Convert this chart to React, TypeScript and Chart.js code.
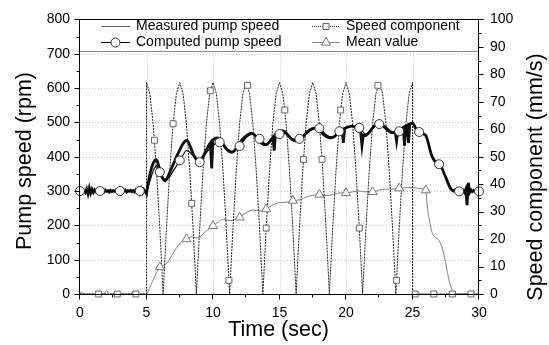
import React, { useEffect, useRef } from "react";
import { Chart, registerables } from "chart.js";

Chart.register(...registerables);

const FONT = '"Liberation Sans", Arial, sans-serif';

// Measured pump speed (rpm), sampled every 0.1 s from 0 to 30 s
const MEAS_DT = 0.1;
const measuredRpm = [
  300, 303, 298, 301, 296, 306, 292, 309, 294, 305,
  296, 303, 298, 301, 299, 302, 298, 301, 297, 303,
  299, 301, 297, 302, 298, 301, 299, 302, 297, 301,
  299, 302, 298, 300, 303, 297, 301, 299, 302, 298,
  301, 297, 303, 296, 305, 294, 306, 295, 304, 298,
  292, 318, 338, 356, 370, 381, 388, 392, 388, 376,
  361, 348, 338, 332, 330, 334, 341, 350, 359, 368,
  377, 386, 395, 404, 412, 420, 428, 435, 441, 445,
  447, 445, 438, 429, 419, 409, 401, 395, 390, 388,
  387, 391, 397, 404, 412, 420, 427, 434, 440, 366,
  449, 452, 454, 455, 454, 452, 447, 441, 434, 428,
  423, 419, 416, 414, 413, 414, 417, 422, 428, 434,
  440, 445, 450, 454, 458, 461, 464, 466, 468, 468,
  467, 464, 459, 454, 449, 445, 441, 438, 436, 435,
  435, 437, 441, 446, 451, 456, 418, 465, 469, 472,
  474, 475, 476, 475, 473, 469, 464, 459, 455, 451,
  449, 447, 446, 446, 447, 448, 451, 455, 460, 465,
  469, 473, 476, 479, 481, 482, 483, 483, 482, 480,
  477, 473, 469, 465, 462, 459, 457, 456, 455, 455,
  456, 458, 461, 465, 469, 473, 476, 479, 440, 482,
  484, 486, 487, 488, 489, 489, 488, 486, 483, 480,
  476, 471, 432, 463, 461, 462, 465, 469, 474, 479,
  484, 488, 492, 495, 496, 497, 496, 494, 490, 486,
  482, 478, 475, 473, 471, 470, 470, 471, 445, 474,
  476, 479, 482, 485, 432, 490, 492, 440, 496, 497,
  498, 494, 485, 478, 475, 473, 471, 469, 467, 465,
  462, 452, 438, 422, 408, 398, 391, 386, 383, 381,
  379, 375, 368, 359, 349, 340, 330, 320, 311, 305,
  302, 300, 303, 298, 301, 297, 303, 299, 302, 296,
  305, 259, 324, 296, 303, 298, 302, 299, 301, 298,
  300,
];

// Computed pump speed (rpm)
const compTime = [0, 5, 5.25, 5.5, 5.75, 6, 6.25, 6.5, 6.75, 7, 7.25, 7.5, 7.75, 8, 8.25, 8.5, 8.75, 9, 9.5, 10, 10.5, 11, 11.5, 12, 12.5, 13, 13.5, 14, 14.5, 15, 15.5, 16, 16.5, 17, 17.5, 18, 18.5, 19, 19.5, 20, 20.5, 21, 21.5, 22, 22.5, 23, 23.5, 24, 24.5, 25, 25.5, 26, 26.5, 27, 27.5, 28, 28.5, 30];
const compRpm = [300, 300, 328, 358, 374, 355, 338, 333, 342, 358, 373, 390, 405, 418, 413, 402, 391, 384, 412, 433, 442, 424, 414, 431, 456, 466, 452, 437, 455, 466, 467, 452, 450, 466, 480, 483, 464, 457, 474, 484, 488, 484, 466, 483, 495, 487, 472, 474, 488, 495, 472, 462, 400, 378, 341, 304, 299, 299];
const compMarkTime = [0, 1.5, 3, 4.5, 6, 7.5, 9, 10.5, 12, 13.5, 15, 16.5, 18, 19.5, 21, 22.5, 24, 25.5, 27, 28.5, 30];
const compMarkRpm = [300, 300, 300, 300, 355, 389, 384, 442, 431, 452, 466, 452, 483, 474, 484, 495, 474, 472, 378, 299, 299];

// Speed component (mm/s): 0 before 5 s, sampled every 0.25 s from 5 to 25 s, 0 after
const SPEED_T0 = 5;
const SPEED_DT = 0.25;
const speedVal = [
  77, 73, 62, 45, 24, 0, 24, 45, 62, 73,
  77, 73, 62, 45, 24, 0, 24, 45, 62, 73,
  77, 73, 62, 45, 24, 0, 24, 45, 62, 73,
  77, 73, 62, 45, 24, 0, 24, 45, 62, 73,
  77, 73, 62, 45, 24, 0, 24, 45, 62, 73,
  77, 73, 62, 45, 24, 0, 24, 45, 62, 73,
  77, 73, 62, 45, 24, 0, 24, 45, 62, 73,
  77, 73, 62, 45, 24, 0, 24, 45, 62, 73,
  77,
];
const speedMarkTime = [1.4, 2.8, 4.2, 5.6, 7.0, 8.4, 9.8, 11.2, 12.6, 14.0, 15.4, 16.8, 18.2, 19.6, 21.0, 22.4, 23.8, 25.2, 26.6, 28.0, 29.4];
const speedMarkVal = [0, 0, 0, 56, 62, 33, 74, 5, 76, 24, 67, 49, 49, 67, 24, 76, 5, 0, 0, 0, 0];

// Mean value (mm/s)
const meanTime = [0, 0.1, 0.25, 1.8, 2.0, 2.2, 3.8, 4.0, 4.2, 5.0, 5.25, 5.5, 5.75, 6.0, 6.3, 6.6, 7.0, 7.5, 8.0, 8.4, 8.8, 9.2, 9.6, 10.0, 10.4, 10.8, 11.3, 11.7, 12.0, 12.5, 13.0, 13.5, 14.0, 14.5, 15.0, 15.5, 16.0, 16.5, 17.0, 17.5, 18.0, 18.5, 19.0, 19.5, 20.0, 20.5, 21.0, 21.5, 22.0, 22.5, 23.0, 23.5, 24.0, 24.5, 25.0, 25.5, 26.0, 26.1, 26.3, 26.5, 26.75, 27.0, 27.25, 27.5, 27.75, 28.0, 28.2, 30];
const meanVal = [0, 0.8, 0, 0, 1.2, 0, 0, 1.2, 0, 0, 2.4, 5.2, 7.7, 9.8, 10.4, 11.6, 14.9, 18.3, 20.0, 20.8, 20.4, 21.6, 23.4, 24.8, 26.3, 27.2, 26.7, 27.2, 27.9, 29.6, 30.6, 30.2, 30.9, 32.4, 33.3, 33.4, 34.0, 34.3, 35.3, 36.0, 36.2, 35.8, 36.2, 36.8, 36.8, 37.2, 37.5, 37.2, 37.2, 37.8, 38.2, 38.2, 38.5, 38.7, 38.8, 38.4, 37.8, 32.5, 26.0, 22.0, 20.5, 19.4, 16.5, 11.0, 5.0, 1.2, 0, 0];
const meanMarkTime = [6, 8, 10, 12, 14, 16, 18, 20, 22, 24, 26];
const meanMarkVal = [9.8, 20, 24.8, 27.9, 30.9, 34.0, 36.2, 36.8, 37.2, 38.5, 37.8];

// Axes
const X_MIN = 0, X_MAX = 30, X_MAJOR = 5, X_MINOR = 2.5;
const Y_MIN = 0, Y_MAX = 800, Y_MAJOR = 100, Y_MINOR = 50;
const Y1_MIN = 0, Y1_MAX = 100, Y1_MAJOR = 10, Y1_MINOR = 5;
const LEGEND_LINE_RPM = 709;

const legendItems = ["Measured pump speed", "Speed component", "Computed pump speed", "Mean value"];
const xTitle = "Time (sec)";
const yTitle = "Pump speed (rpm)";
const y1Title = "Speed component (mm/s)";

const pts = (xs: number[], ys: number[]) => xs.map((x, i) => ({ x, y: ys[i] }));

function drawMarker(ctx: CanvasRenderingContext2D, kind: string, x: number, y: number, color: string) {
  ctx.save();
  ctx.setLineDash([]);
  ctx.fillStyle = "#fff";
  ctx.strokeStyle = color;
  ctx.lineWidth = 1;
  ctx.beginPath();
  if (kind === "circle") {
    ctx.arc(x, y, 4.5, 0, Math.PI * 2);
  } else if (kind === "rect") {
    ctx.rect(x - 3, y - 3, 6, 6);
  } else {
    const r = 5.2;
    ctx.moveTo(x, y - r);
    ctx.lineTo(x + r * 0.866, y + r * 0.5);
    ctx.lineTo(x - r * 0.866, y + r * 0.5);
    ctx.closePath();
  }
  ctx.fill();
  ctx.stroke();
  ctx.restore();
}

const framePlugin = {
  id: "frame",
  beforeDatasetsDraw(chart: any) {
    const { ctx, chartArea: a, scales } = chart;
    const x = scales.x, y = scales.y;
    ctx.save();
    ctx.strokeStyle = "#c4c4c4";
    ctx.lineWidth = 1;
    ctx.setLineDash([1, 2]);
    for (let v = X_MIN + X_MAJOR; v < X_MAX; v += X_MAJOR) {
      const px = Math.round(x.getPixelForValue(v)) + 0.5;
      ctx.beginPath(); ctx.moveTo(px, a.top); ctx.lineTo(px, a.bottom); ctx.stroke();
    }
    for (let v = Y_MIN + Y_MAJOR; v < Y_MAX; v += Y_MAJOR) {
      const py = Math.round(y.getPixelForValue(v)) + 0.5;
      ctx.beginPath(); ctx.moveTo(a.left, py); ctx.lineTo(a.right, py); ctx.stroke();
    }
    ctx.restore();
  },
  afterDatasetsDraw(chart: any) {
    const { ctx, chartArea: a, scales } = chart;
    const x = scales.x, y = scales.y, y1 = scales.y1;
    ctx.save();
    ctx.setLineDash([]);
    // legend box bottom line
    const ly = Math.round(y.getPixelForValue(LEGEND_LINE_RPM)) + 0.5;
    ctx.fillStyle = "#fff";
    ctx.fillRect(a.left, a.top, a.right - a.left, ly - a.top);
    ctx.strokeStyle = "#8c8c8c";
    ctx.lineWidth = 1;
    ctx.beginPath(); ctx.moveTo(a.left, ly); ctx.lineTo(a.right, ly); ctx.stroke();

    // frame
    const L = Math.round(a.left) - 0.5;
    const R = Math.round(a.right) - 0.5;
    const T = Math.round(a.top) + 0.5;
    const B = Math.round(a.bottom) + 0.5;
    ctx.strokeStyle = "#000";
    ctx.lineWidth = 1;
    ctx.strokeRect(L, T, R - L, B - T);

    // ticks
    ctx.beginPath();
    for (let v = X_MIN; v <= X_MAX + 1e-9; v += X_MINOR) {
      const px = Math.round(x.getPixelForValue(v)) - 0.5;
      const major = Math.abs(v / X_MAJOR - Math.round(v / X_MAJOR)) < 1e-6;
      ctx.moveTo(px, B); ctx.lineTo(px, B + (major ? 5 : 3));
    }
    for (let v = Y_MIN; v <= Y_MAX + 1e-9; v += Y_MINOR) {
      const py = Math.round(y.getPixelForValue(v)) + 0.5;
      const major = Math.abs(v / Y_MAJOR - Math.round(v / Y_MAJOR)) < 1e-6;
      ctx.moveTo(L, py); ctx.lineTo(L - (major ? 5 : 3), py);
    }
    for (let v = Y1_MIN; v <= Y1_MAX + 1e-9; v += Y1_MINOR) {
      const py = Math.round(y1.getPixelForValue(v)) + 0.5;
      const major = Math.abs(v / Y1_MAJOR - Math.round(v / Y1_MAJOR)) < 1e-6;
      ctx.moveTo(R, py); ctx.lineTo(R + (major ? 5 : 3), py);
    }
    ctx.stroke();

    // legend entries
    ctx.font = `14px ${FONT}`;
    ctx.fillStyle = "#000";
    ctx.textBaseline = "middle";
    ctx.textAlign = "left";
    const r1 = 26, r2 = 42.5;
    const c1a = 101, c1b = 130, c1t = 136;
    const c2a = 312, c2b = 340, c2t = 346;
    // Measured
    ctx.strokeStyle = "#666";
    ctx.beginPath(); ctx.moveTo(c1a, r1 + 0.5); ctx.lineTo(c1b, r1 + 0.5); ctx.stroke();
    ctx.fillText(legendItems[0], c1t, r1);
    // Speed component
    ctx.strokeStyle = "#333";
    ctx.setLineDash([1, 1]);
    ctx.beginPath(); ctx.moveTo(c2a, r1 + 0.5); ctx.lineTo(c2b, r1 + 0.5); ctx.stroke();
    ctx.setLineDash([]);
    drawMarker(ctx, "rect", (c2a + c2b) / 2, r1 + 0.5, "#666");
    ctx.fillText(legendItems[1], c2t, r1);
    // Computed
    ctx.strokeStyle = "#000";
    ctx.beginPath(); ctx.moveTo(c1a, r2); ctx.lineTo(c1b, r2); ctx.stroke();
    drawMarker(ctx, "circle", (c1a + c1b) / 2, r2, "#333");
    ctx.fillText(legendItems[2], c1t, r2);
    // Mean
    ctx.strokeStyle = "#888";
    ctx.beginPath(); ctx.moveTo(c2a, r2); ctx.lineTo(c2b, r2); ctx.stroke();
    drawMarker(ctx, "triangle", (c2a + c2b) / 2, r2, "#777");
    ctx.fillText(legendItems[3], c2t, r2);
    ctx.restore();
  },
  afterDraw(chart: any) {
    const { ctx, chartArea: a } = chart;
    ctx.save();
    ctx.fillStyle = "#000";
    ctx.font = `21.5px ${FONT}`;
    ctx.textAlign = "center";
    ctx.textBaseline = "alphabetic";
    ctx.fillText(xTitle, (a.left + a.right) / 2 - 1, 336);
    ctx.save();
    ctx.translate(31, 161);
    ctx.rotate(-Math.PI / 2);
    ctx.fillText(yTitle, 0, 0);
    ctx.restore();
    ctx.save();
    ctx.translate(542, 177);
    ctx.rotate(-Math.PI / 2);
    ctx.fillText(y1Title, 0, 0);
    ctx.restore();
    ctx.restore();
  },
};

export default function App() {
  const ref = useRef<HTMLCanvasElement | null>(null);
  useEffect(() => {
    if (!ref.current) return;
    const measured = measuredRpm.map((v, i) => ({ x: +(i * MEAS_DT).toFixed(2), y: v }));
    const speed = [
      { x: 0, y: 0 },
      { x: SPEED_T0, y: 0 },
      ...speedVal.map((v, i) => ({ x: SPEED_T0 + i * SPEED_DT, y: v })),
      { x: SPEED_T0 + (speedVal.length - 1) * SPEED_DT, y: 0 },
      { x: X_MAX, y: 0 },
    ];
    const tickFont = { family: FONT, size: 14 };
    const chart = new Chart(ref.current, {
      type: "line",
      data: {
        datasets: [
          {
            label: "Computed markers",
            data: pts(compMarkTime, compMarkRpm),
            yAxisID: "y",
            showLine: false,
            pointStyle: "circle",
            pointRadius: 4.5,
            pointBackgroundColor: "#fff",
            pointBorderColor: "#333",
            pointBorderWidth: 1,
            clip: false,
          } as any,
          {
            label: "Speed markers",
            data: pts(speedMarkTime, speedMarkVal),
            yAxisID: "y1",
            showLine: false,
            pointStyle: "rect",
            pointRadius: 4.2,
            pointBackgroundColor: "#fff",
            pointBorderColor: "#666",
            pointBorderWidth: 1,
            clip: false,
          } as any,
          {
            label: "Mean markers",
            data: pts(meanMarkTime, meanMarkVal),
            yAxisID: "y1",
            showLine: false,
            pointStyle: "triangle",
            pointRadius: 5.2,
            pointBackgroundColor: "#fff",
            pointBorderColor: "#777",
            pointBorderWidth: 1,
            clip: false,
          } as any,
          {
            label: "Computed pump speed",
            data: pts(compTime, compRpm),
            yAxisID: "y",
            borderColor: "#000",
            borderWidth: 1.2,
            pointRadius: 0,
            cubicInterpolationMode: "monotone",
          } as any,
          {
            label: "Speed component",
            data: speed,
            yAxisID: "y1",
            borderColor: "#222",
            borderWidth: 1,
            borderDash: [2, 1],
            pointRadius: 0,
            tension: 0,
          } as any,
          {
            label: "Mean value",
            data: pts(meanTime, meanVal),
            yAxisID: "y1",
            borderColor: "#808080",
            borderWidth: 1,
            pointRadius: 0,
            cubicInterpolationMode: "monotone",
          } as any,
          {
            label: "Measured pump speed",
            data: measured,
            yAxisID: "y",
            borderColor: "#111",
            borderWidth: 2.8,
            pointRadius: 0,
            tension: 0,
          } as any,
        ],
      },
      options: {
        responsive: false,
        animation: false,
        devicePixelRatio: 1,
        layout: { padding: { top: 18, left: 0, right: 0, bottom: 0 } },
        plugins: { legend: { display: false }, tooltip: { enabled: false } },
        scales: {
          x: {
            type: "linear",
            min: X_MIN,
            max: X_MAX,
            ticks: { stepSize: X_MAJOR, padding: 11, font: tickFont, color: "#000", maxRotation: 0, autoSkip: false },
            grid: { display: false, drawTicks: false },
            border: { display: false },
            afterFit: (s: any) => { s.height = 51; },
          },
          y: {
            type: "linear",
            position: "left",
            min: Y_MIN,
            max: Y_MAX,
            ticks: { stepSize: Y_MAJOR, padding: 10, font: tickFont, color: "#000" },
            grid: { display: false, drawTicks: false },
            border: { display: false },
            afterFit: (s: any) => { s.width = 80; },
          },
          y1: {
            type: "linear",
            position: "right",
            min: Y1_MIN,
            max: Y1_MAX,
            ticks: { stepSize: Y1_MAJOR, padding: 11, font: tickFont, color: "#000" },
            grid: { display: false, drawTicks: false },
            border: { display: false },
            afterFit: (s: any) => { s.width = 70; },
          },
        },
      } as any,
      plugins: [framePlugin],
    });
    return () => chart.destroy();
  }, []);
  return (
    <div style={{ position: "fixed", left: 0, top: 0, width: 549, height: 345, background: "#fff" }}>
      <canvas ref={ref} width={549} height={345} style={{ display: "block" }} />
    </div>
  );
}
